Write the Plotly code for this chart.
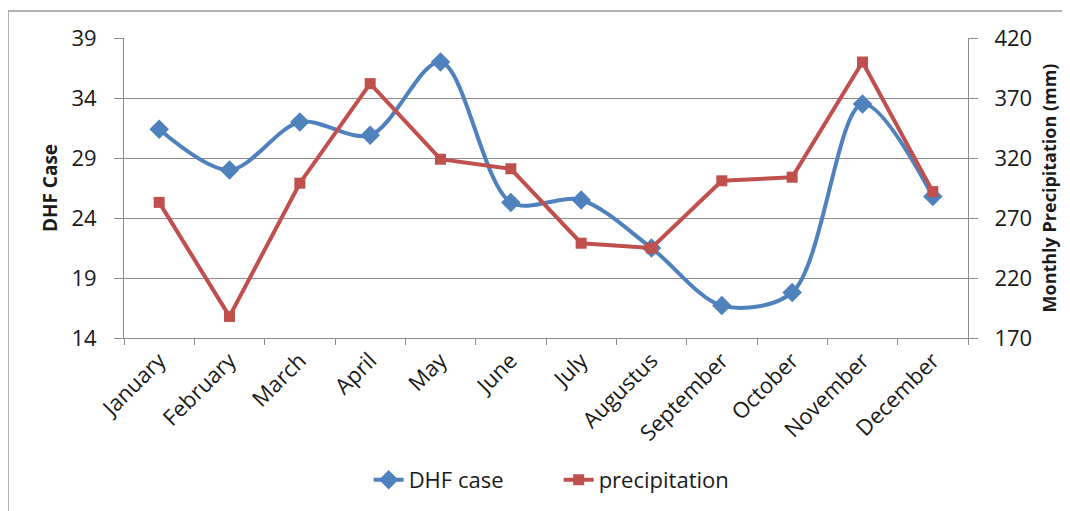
import plotly.graph_objects as go

months = ["January", "February", "March", "April", "May", "June", "July",
          "Augustus", "September", "October", "November", "December"]
dhf_case = [31.4, 28.0, 32.0, 30.9, 37.0, 25.3, 25.5, 21.5, 16.7, 17.8, 33.5, 25.8]
precipitation = [283, 188, 299, 382, 319, 311, 249, 245, 301, 304, 400, 292]

blue = "#4F81BD"
red = "#C0504D"
grid = "#8C8C8C"
font = "Open Sans"

fig = go.Figure()
fig.add_trace(go.Scatter(
    x=months, y=dhf_case, name="DHF case", mode="lines+markers",
    line=dict(color=blue, width=4, shape="spline", smoothing=0.9),
    marker=dict(symbol="diamond", size=15, color=blue)))
fig.add_trace(go.Scatter(
    x=months, y=precipitation, name="precipitation", mode="lines+markers",
    yaxis="y2",
    line=dict(color=red, width=4),
    marker=dict(symbol="square", size=11, color=red)))

# page body has an 8px margin, so the figure is sized to fit inside the window
fig.update_layout(
    width=1062, height=503,
    margin=dict(l=116, r=102, t=30, b=172),
    paper_bgcolor="white", plot_bgcolor="white",
    font=dict(family=font, color="#1a1a1a"),
    showlegend=True,
    legend=dict(orientation="h", x=0.515, xanchor="center", y=-0.468, yanchor="middle",
                font=dict(size=22, family=font), entrywidth=145),
    xaxis=dict(
        type="category", showline=True, linecolor=grid, linewidth=1,
        ticks="outside", tickson="boundaries", ticklen=6, tickcolor=grid,
        tickangle=-45, tickfont=dict(size=22, family=font),
        showgrid=False, range=[-0.5, 11.5], automargin=False),
    yaxis=dict(
        range=[14, 39], tickvals=[14, 19, 24, 29, 34, 39],
        showline=True, linecolor=grid, linewidth=1,
        ticks="outside", ticklen=9, tickcolor=grid, ticklabelstandoff=13,
        showgrid=True, gridcolor=grid, gridwidth=1, zeroline=False,
        tickfont=dict(size=22, family=font), automargin=False,
        title=dict(text="<b>DHF Case</b>", font=dict(size=19, family=font), standoff=8)),
    yaxis2=dict(
        range=[170, 420], tickvals=[170, 220, 270, 320, 370, 420],
        overlaying="y", side="right",
        showline=True, linecolor=grid, linewidth=1,
        ticks="outside", ticklen=9, tickcolor=grid, ticklabelstandoff=12,
        showgrid=False, zeroline=False,
        tickfont=dict(size=22, family=font), automargin=False,
        title=dict(text="<b>Monthly Precipitation (mm)</b>", font=dict(size=18, family=font), standoff=12)),
)

# outer chart frame
fig.add_shape(type="rect", xref="paper", yref="paper",
              x0=(8 - 124) / 844, x1=(1068 - 124) / 844,
              y0=(339 - 530) / 301, y1=(339 - 11) / 301,
              line=dict(color="#9a9a9a", width=1.5), layer="below")

fig.write_html("out.html")
